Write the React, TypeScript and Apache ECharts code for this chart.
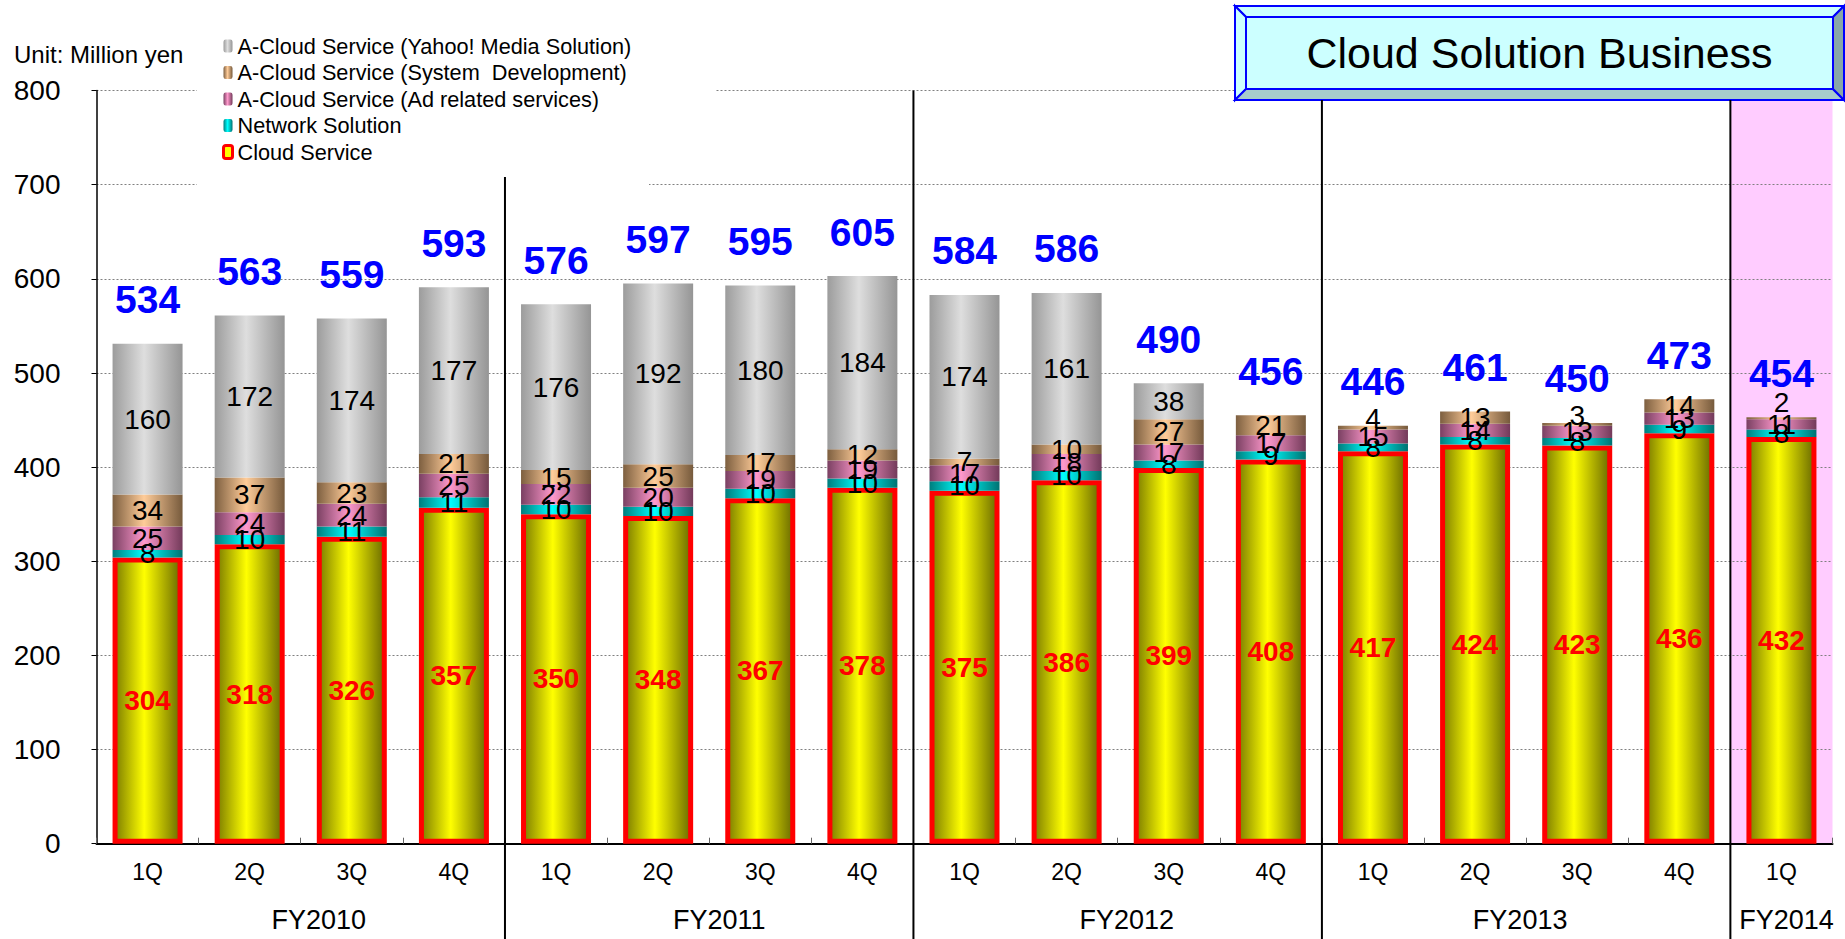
import React, { useEffect, useRef } from "react";
import * as echarts from "echarts";

const FONT = 'Arial, "Liberation Sans", Helvetica, sans-serif';

// Quarter / fiscal-year axis
const quarters = ["1Q", "2Q", "3Q", "4Q", "1Q", "2Q", "3Q", "4Q", "1Q", "2Q", "3Q", "4Q", "1Q", "2Q", "3Q", "4Q", "1Q"];
const fiscalYears = ["FY2010", "FY2011", "FY2012", "FY2013", "FY2014"];
const quartersPerYear = [4, 4, 4, 4, 1];

// Sales by segment (million yen)
const cloudService = [304, 318, 326, 357, 350, 348, 367, 378, 375, 386, 399, 408, 417, 424, 423, 436, 432];
const networkSolution = [8, 10, 11, 11, 10, 10, 10, 10, 10, 10, 8, 9, 8, 8, 8, 9, 8];
const adRelated = [25, 24, 24, 25, 22, 20, 19, 19, 17, 18, 17, 17, 15, 14, 13, 13, 11];
const systemDevelopment = [34, 37, 23, 21, 15, 25, 17, 12, 7, 10, 27, 21, 4, 13, 3, 14, 2];
const yahooMedia = [160, 172, 174, 177, 176, 192, 180, 184, 174, 161, 38, 0, 0, 0, 0, 0, 0];
const totals = [534, 563, 559, 593, 576, 597, 595, 605, 584, 586, 490, 456, 446, 461, 450, 473, 454];

// Value axis
const yMin = 0;
const yMax = 800;
const yStep = 100;

const NAMES = {
  yahoo: "A-Cloud Service (Yahoo! Media Solution)",
  sysdev: "A-Cloud Service (System  Development)",
  ad: "A-Cloud Service (Ad related services)",
  network: "Network Solution",
  cloud: "Cloud Service",
};

// horizontal nudge (px) of each fiscal-year caption from its group centre
const fyCaptionShift = [18, 10, 9, -6, 5];

// build unique category keys so repeated quarter names stay distinct
const categoryKeys: string[] = [];
{
  let k = 0;
  fiscalYears.forEach((fy, yi) => {
    for (let q = 0; q < quartersPerYear[yi]; q++) {
      categoryKeys.push(fy + " " + quarters[k]);
      k++;
    }
  });
}

const cylinder = (edgeL: string, mid: string, edgeR: string) => ({
  type: "linear",
  x: 0,
  y: 0,
  x2: 1,
  y2: 0,
  colorStops: [
    { offset: 0, color: edgeL },
    { offset: 0.45, color: mid },
    { offset: 1, color: edgeR },
  ],
});

const GRAY = cylinder("#9c9c9c", "#dedede", "#959595");
const TAN = cylinder("#7d5f40", "#ffcc99", "#765a3c");
const PINK = cylinder("#7a4062", "#ff99cc", "#733a5a");
const CYAN = cylinder("#007d7d", "#00ffff", "#007272");
const YELLOW = cylinder("#7d7d00", "#ffff00", "#6c6c00");

const BAR_W = 70;

const segLabel = {
  show: true,
  position: "inside",
  color: "#000",
  fontSize: 28,
  fontFamily: FONT,
  formatter: (p: any) => (p.value ? String(p.value) : ""),
};

export default function App() {
  const ref = useRef<HTMLDivElement>(null);

  useEffect(() => {
    document.body.style.margin = "0";
    const chart = echarts.init(ref.current!, null, { renderer: "svg" });

    const option: any = {
      animation: false,
      textStyle: { fontFamily: FONT },
      grid: { left: 96.5, right: 12.5, top: 90.6, bottom: 95.3, containLabel: false },
      legend: {
        orient: "vertical",
        left: 222,
        top: 35,
        padding: 0,
        itemWidth: 9,
        itemHeight: 13,
        itemGap: 4.5,
        selectedMode: false,
        z: 6,
        textStyle: { fontSize: 21.7, color: "#000", fontFamily: FONT, lineHeight: 22 },
        data: [
          { name: NAMES.yahoo, itemStyle: { color: GRAY, borderWidth: 0 } },
          { name: NAMES.sysdev, itemStyle: { color: TAN, borderWidth: 0 } },
          { name: NAMES.ad, itemStyle: { color: PINK, borderWidth: 0 } },
          { name: NAMES.network, itemStyle: { color: CYAN, borderWidth: 0 } },
          { name: NAMES.cloud, itemStyle: { color: "#ffff00", borderColor: "#ff0000", borderWidth: 3 } },
        ],
      },
      xAxis: {
        type: "category",
        data: categoryKeys,
        axisLine: { lineStyle: { color: "#000", width: 2 } },
        axisTick: { show: true, inside: true, length: 6, lineStyle: { color: "#666" } },
        axisLabel: {
          formatter: (_v: string, i: number) => quarters[i],
          fontSize: 23,
          color: "#000",
          margin: 17,
          fontFamily: FONT,
        },
        splitLine: { show: false },
      },
      yAxis: {
        type: "value",
        min: yMin,
        max: yMax,
        interval: yStep,
        axisLine: { show: true, lineStyle: { color: "#000", width: 1.5 } },
        axisTick: { show: true, length: 5, lineStyle: { color: "#000" } },
        axisLabel: { fontSize: 28, color: "#000", margin: 36, fontFamily: FONT },
        splitLine: { show: true, lineStyle: { color: "#808080", type: [2, 2], width: 1 } },
      },
      series: [
        {
          name: NAMES.cloud,
          type: "bar",
          stack: "sales",
          barWidth: BAR_W,
          data: cloudService,
          itemStyle: { color: YELLOW, borderColor: "#ff0000", borderWidth: 5 },
          label: { ...segLabel, color: "#ff0000", fontWeight: "bold" },
        },
        {
          name: NAMES.network,
          type: "bar",
          stack: "sales",
          barWidth: BAR_W,
          data: networkSolution,
          itemStyle: { color: CYAN },
          label: segLabel,
        },
        {
          name: NAMES.ad,
          type: "bar",
          stack: "sales",
          barWidth: BAR_W,
          data: adRelated,
          itemStyle: { color: PINK },
          label: segLabel,
        },
        {
          name: NAMES.sysdev,
          type: "bar",
          stack: "sales",
          barWidth: BAR_W,
          // very thin slices get their number nudged above the slice
          data: systemDevelopment.map((v) =>
            v < 5 ? { value: v, label: { offset: [0, v < 3 ? -16 : -9] } } : v
          ),
          itemStyle: { color: TAN },
          label: segLabel,
        },
        {
          name: NAMES.yahoo,
          type: "bar",
          stack: "sales",
          barWidth: BAR_W,
          data: yahooMedia,
          itemStyle: { color: GRAY },
          label: segLabel,
        },
        {
          name: "total",
          type: "bar",
          stack: "sales",
          barWidth: BAR_W,
          silent: true,
          data: totals.map(() => 0),
          itemStyle: { color: "rgba(0,0,0,0)" },
          label: {
            show: true,
            position: "top",
            distance: 24,
            color: "#0000ff",
            fontWeight: "bold",
            fontSize: 39,
            lineHeight: 40,
            fontFamily: FONT,
            formatter: (p: any) => String(totals[p.dataIndex]),
          },
        },
      ],
    };

    chart.setOption(option);

    // positions derived from the axes
    const xc = (i: number) => chart.convertToPixel({ xAxisIndex: 0 }, i) as number;
    const step = xc(1) - xc(0);
    const edge = (i: number) => xc(0) + (i - 0.5) * step;
    const yZero = chart.convertToPixel({ yAxisIndex: 0 }, yMin) as number;
    const yTop = chart.convertToPixel({ yAxisIndex: 0 }, yMax) as number;

    const titleBox = { x0: 1235, y0: 6, x1: 1844, y1: 100, bw: 11 };
    const legendBottom = 177;
    const pageBottom = 939;

    const starts: number[] = [];
    quartersPerYear.reduce((acc, n) => {
      starts.push(acc);
      return acc + n;
    }, 0);

    const graphics: any[] = [];

    // white backing behind the legend
    graphics.push(
      { type: "rect", z: 1, shape: { x: 197, y: 20, width: 519, height: 90 }, style: { fill: "#fff" } },
      { type: "rect", z: 1, shape: { x: 197, y: 110, width: 452, height: 96 }, style: { fill: "#fff" } }
    );

    // highlighted latest fiscal year column
    const lastStart = starts[starts.length - 1];
    graphics.push({
      type: "rect",
      z: -1,
      shape: {
        x: edge(lastStart),
        y: titleBox.y1,
        width: edge(lastStart + quartersPerYear[quartersPerYear.length - 1]) - edge(lastStart),
        height: yZero - titleBox.y1,
      },
      style: { fill: "#ffccff" },
    });

    // fiscal-year dividers and labels
    starts.forEach((s, yi) => {
      if (yi > 0) {
        const x = edge(s);
        const top = yi === 1 ? legendBottom : yi === 2 ? yTop : titleBox.y1;
        graphics.push({
          type: "line",
          z: 5,
          shape: { x1: x, y1: top, x2: x, y2: pageBottom },
          style: { stroke: "#000", lineWidth: 2 },
        });
      }
      const cx = (edge(s) + edge(s + quartersPerYear[yi])) / 2 + fyCaptionShift[yi];
      graphics.push({
        type: "text",
        z: 5,
        x: cx,
        y: 920,
        style: {
          text: fiscalYears[yi],
          fill: "#000",
          fontSize: 27,
          fontFamily: FONT,
          align: "center",
          verticalAlign: "middle",
          textAlign: "center",
          textVerticalAlign: "middle",
        },
      });
    });

    // unit caption
    graphics.push({
      type: "text",
      z: 5,
      x: 14,
      y: 54,
      style: {
        text: "Unit: Million yen",
        fill: "#000",
        fontSize: 24,
        fontFamily: FONT,
        align: "left",
        verticalAlign: "middle",
        textAlign: "left",
        textVerticalAlign: "middle",
      },
    });

    // bevelled title plate
    const { x0, y0, x1, y1, bw } = titleBox;
    const edgeStroke = { stroke: "#0000ff", lineWidth: 2, lineJoin: "miter" };
    graphics.push({
      type: "group",
      z: 10,
      children: [
        { type: "polygon", shape: { points: [[x0, y0], [x1, y0], [x1 - bw, y0 + bw], [x0 + bw, y0 + bw]] }, style: { fill: "#ccffff", ...edgeStroke } },
        { type: "polygon", shape: { points: [[x0, y0], [x0 + bw, y0 + bw], [x0 + bw, y1 - bw], [x0, y1]] }, style: { fill: "#ccffff", ...edgeStroke } },
        { type: "polygon", shape: { points: [[x0, y1], [x0 + bw, y1 - bw], [x1 - bw, y1 - bw], [x1, y1]] }, style: { fill: "#a6cccc", ...edgeStroke } },
        { type: "polygon", shape: { points: [[x1, y0], [x1, y1], [x1 - bw, y1 - bw], [x1 - bw, y0 + bw]] }, style: { fill: "#88a8a8", ...edgeStroke } },
        { type: "rect", shape: { x: x0 + bw, y: y0 + bw, width: x1 - x0 - 2 * bw, height: y1 - y0 - 2 * bw }, style: { fill: "#ccffff", ...edgeStroke } },
        {
          type: "text",
          x: (x0 + x1) / 2,
          y: (y0 + y1) / 2,
          style: {
            text: "Cloud Solution Business",
            fill: "#000",
            fontSize: 43,
            fontFamily: FONT,
            align: "center",
            verticalAlign: "middle",
            textAlign: "center",
            textVerticalAlign: "middle",
          },
        },
      ],
    });

    chart.setOption({ graphic: graphics });

    return () => chart.dispose();
  }, []);

  return <div ref={ref} style={{ width: 1845, height: 939 }} />;
}
